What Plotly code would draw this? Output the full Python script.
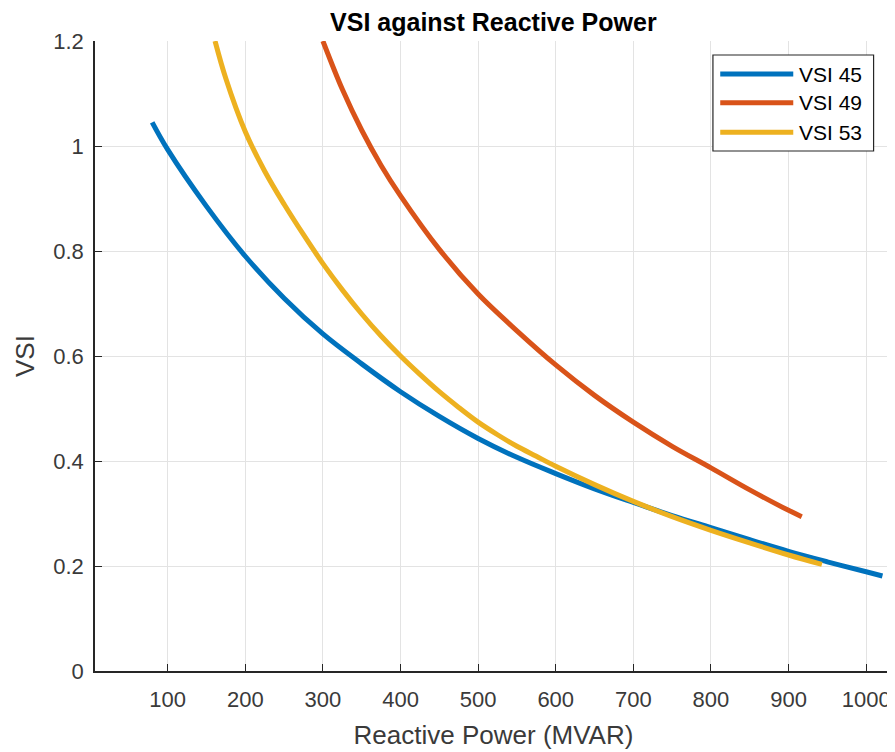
import plotly.graph_objects as go

# ---------------- data ----------------
series_names = ["VSI 45", "VSI 49", "VSI 53"]

vsi45_q = [80, 100, 150, 200, 250, 300, 350, 400, 450, 500, 550, 600, 650,
           700, 750, 800, 850, 900, 950, 1000, 1021]
vsi45_v = [1.045, 0.993, 0.885, 0.790, 0.710, 0.642, 0.585, 0.532, 0.485,
           0.443, 0.407, 0.376, 0.347, 0.321, 0.296, 0.273, 0.250, 0.228,
           0.208, 0.189, 0.181]

vsi49_q = [300, 325, 350, 375, 400, 450, 500, 550, 600, 650, 700, 750, 800,
           850, 900, 917]
vsi49_v = [1.200, 1.108, 1.030, 0.963, 0.905, 0.803, 0.718, 0.648, 0.583,
           0.525, 0.474, 0.428, 0.387, 0.345, 0.306, 0.294]

vsi53_q = [161, 175, 200, 225, 250, 275, 300, 325, 350, 375, 400, 425, 450,
           475, 500, 525, 550, 575, 600, 650, 700, 750, 800, 850, 900, 943]
vsi53_v = [1.200, 1.128, 1.027, 0.952, 0.889, 0.831, 0.776, 0.726, 0.680,
           0.638, 0.600, 0.565, 0.532, 0.502, 0.474, 0.450, 0.428, 0.409,
           0.390, 0.355, 0.323, 0.294, 0.268, 0.244, 0.221, 0.203]

x_ticks = [100, 200, 300, 400, 500, 600, 700, 800, 900, 1000]
y_ticks = [0, 0.2, 0.4, 0.6, 0.8, 1.0, 1.2]

colors = ["#0072BD", "#D95319", "#EDB120"]

# ---------------- figure ----------------
# the page body has an 8px margin, so the figure is 8px smaller than the window
OFF = 8
W, H = 895 - OFF, 752 - OFF
L = 95 - OFF
T = 41 - OFF
R = W - (891.7 - OFF)
B = H - (671 - OFF)
pw, ph = W - L - R, H - T - B

FONT = "Liberation Sans, Arial, Helvetica, sans-serif"
AX = "#262626"
GRID = "#e3e3e3"
TXT = "#3a3a3a"

fig = go.Figure()
for name, xs, ys, c in zip(series_names,
                           [vsi45_q, vsi49_q, vsi53_q],
                           [vsi45_v, vsi49_v, vsi53_v], colors):
    fig.add_trace(go.Scatter(x=xs, y=ys, mode="lines", name=name,
                             line=dict(color=c, width=5, shape="spline",
                                       smoothing=1.0),
                             showlegend=False))

fig.update_layout(
    width=W, height=H,
    margin=dict(l=L, r=R, t=T, b=B, autoexpand=False),
    paper_bgcolor="white", plot_bgcolor="white",
    font=dict(family=FONT, color=AX),
    title=dict(text="<b>VSI against Reactive Power</b>",
               x=(L + pw / 2) / W, xanchor="center",
               yref="container", y=1 - 14 / H, yanchor="middle",
               font=dict(size=25, color="#000000", family=FONT)),
)

fig.update_xaxes(range=[6.3, 1033.3], tickvals=x_ticks,
                 ticks="inside", ticklen=7, tickwidth=1.2, tickcolor=AX,
                 showline=True, linecolor=AX, linewidth=1.5,
                 showgrid=True, gridcolor=GRID, gridwidth=1,
                 zeroline=False, mirror=False,
                 tickfont=dict(size=22, color=TXT),
                 ticklabelstandoff=8,
                 title=dict(text="Reactive Power (MVAR)",
                            font=dict(size=26, color=TXT),
                            standoff=15))
fig.update_yaxes(range=[0, 1.2], tickvals=y_ticks,
                 ticktext=[("%g" % v) for v in y_ticks],
                 ticks="inside", ticklen=7, tickwidth=1.2, tickcolor=AX,
                 showline=True, linecolor=AX, linewidth=1.5,
                 showgrid=True, gridcolor=GRID, gridwidth=1,
                 zeroline=False, mirror=False,
                 tickfont=dict(size=22, color=TXT),
                 ticklabelstandoff=5,
                 title=dict(text="VSI", font=dict(size=26, color=TXT),
                            standoff=11))

# ---------------- legend (MATLAB-style box) ----------------
def px(x):
    return (x - OFF - L) / pw

def py(y):
    return (H - B - (y - OFF)) / ph

fig.add_shape(type="rect", xref="paper", yref="paper",
              x0=px(712.7), x1=px(873.3), y0=py(151), y1=py(55),
              line=dict(color=AX, width=1.2), fillcolor="white", layer="above")
rows = [74, 102.7, 132.2]
for name, c, ry in zip(series_names, colors, rows):
    fig.add_shape(type="line", xref="paper", yref="paper",
                  x0=px(720), x1=px(793), y0=py(ry), y1=py(ry),
                  line=dict(color=c, width=5), layer="above")
    fig.add_annotation(xref="paper", yref="paper", x=px(797), y=py(ry),
                       text=name, showarrow=False, xanchor="left",
                       yanchor="middle",
                       font=dict(size=21, color="#000000", family=FONT))

fig.write_html("out.html")
